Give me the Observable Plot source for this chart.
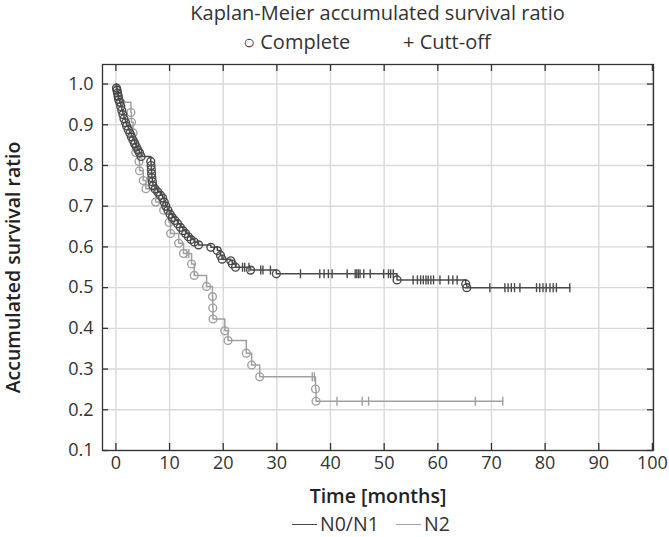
<!DOCTYPE html>
<html>
<head>
<meta charset="utf-8">
<script src="https://cdn.jsdelivr.net/npm/d3@7"></script>
<script src="https://cdn.jsdelivr.net/npm/@observablehq/plot@0.6"></script>
<style>
  body { margin: 0; background: #fff; }
  #wrap { position: relative; width: 669px; height: 537px; font-family: "Open Sans", sans-serif; color: #333; }
  .abs { position: absolute; white-space: nowrap; }
  #chart { position: absolute; left: 0; top: 0; }
</style>
</head>
<body>
<div id="wrap">
  <div id="chart"></div>
  <div class="abs" id="title" style="left:102px; width:551px; top:2px; text-align:center; font-size:20px; line-height:21px;">Kaplan-Meier accumulated survival ratio</div>
  <div class="abs" style="left:243px; top:31px; font-size:20px; line-height:21px;">○ Complete</div>
  <div class="abs" style="left:403px; top:31px; font-size:20px; line-height:21px;">+ Cutt-off</div>
  <div class="abs" id="legend" style="left:0; top:513px; width:669px; font-size:19.5px; line-height:22px;"></div>
</div>
<script>
// ---- data ----
const seriesNames = ["N0/N1", "N2"];
const seriesColors = ["#4a4a4a", "#a0a0a0"];

// N0/N1: event times (months) and survival after each event
const n01EventTimes = [0.1,0.2,0.3,0.4,0.5,0.7,0.9,1.1,1.3,1.5,1.8,2.0,2.3,2.6,2.9,3.2,3.5,3.8,4.1,4.4,4.7,
  6.5,6.55,6.6,6.65,6.7,6.8,6.9,7.3,7.8,8.3,8.7,9.0,9.3,9.7,10.1,10.5,11.0,11.5,12.0,12.5,13.0,13.5,14.0,14.6,15.4,
  17.7,18.9,19.5,19.8,21.4,21.7,22.3,25.1,29.9,52.4,65.2,65.4];
const n01EventSurv = [0.990,0.985,0.978,0.970,0.962,0.955,0.945,0.935,0.925,0.915,0.905,0.897,0.888,0.879,0.870,0.862,0.853,0.846,0.838,0.831,0.822,
  0.810,0.800,0.790,0.780,0.770,0.760,0.750,0.742,0.735,0.727,0.720,0.710,0.700,0.690,0.680,0.672,0.665,0.657,0.648,0.640,0.633,0.625,0.618,0.612,0.605,
  0.599,0.591,0.579,0.570,0.566,0.558,0.550,0.543,0.534,0.519,0.509,0.500];
const n01CensorTimes = [23.6,24.0,24.8,27.0,27.4,28.8,34.4,38.0,38.8,39.6,40.3,43.1,44.6,44.9,45.2,45.5,46.2,47.4,49.9,50.8,51.2,51.7,
  55.4,56.2,56.8,57.3,57.8,58.2,58.7,59.2,60.4,62.0,62.8,63.6,69.7,72.5,73.1,73.7,74.3,75.3,78.4,79.0,79.6,80.2,80.9,81.5,82.1,84.6];

// N2
const n2EventTimes = [0.2,0.5,0.9,2.8,2.9,3.2,3.5,3.7,4.3,4.4,5.1,5.6,7.4,8.9,9.9,10.2,11.7,12.6,14.1,14.6,16.9,18.0,18.05,18.1,20.3,20.9,24.3,25.3,26.8,37.2,37.3];
const n2EventSurv = [0.985,0.970,0.955,0.930,0.906,0.880,0.856,0.832,0.810,0.787,0.763,0.743,0.710,0.690,0.660,0.633,0.609,0.584,0.558,0.530,0.503,0.478,0.450,0.423,0.394,0.370,0.339,0.310,0.281,0.251,0.221];
const n2CensorTimes = [13.2,13.6,36.6,37.0,41.2,45.9,47.1,67.0,72.1];

const xTicks = [0,10,20,30,40,50,60,70,80,90,100];
const yTicks = [0.1,0.2,0.3,0.4,0.5,0.6,0.7,0.8,0.9,1.0];

// ---- build tables ----
function levelAt(times, surv, t) {
  let s = 1;
  for (let i = 0; i < times.length; i++) if (times[i] <= t) s = surv[i];
  return s;
}
function build(name, times, surv, censors) {
  const events = times.map((t, i) => ({series: name, t, s: surv[i]}));
  const cens = censors.map(t => ({series: name, t, s: levelAt(times, surv, t)}));
  const lastT = Math.max(times[times.length - 1], censors[censors.length - 1]);
  const line = [{series: name, t: 0, s: 1}, ...events, {series: name, t: lastT, s: surv[surv.length - 1]}];
  return {events, cens, line};
}
const A = build(seriesNames[0], n01EventTimes, n01EventSurv, n01CensorTimes);
const B = build(seriesNames[1], n2EventTimes, n2EventSurv, n2CensorTimes);

const censorSymbol = {
  draw(ctx, size) { const r = Math.sqrt(size / Math.PI); ctx.moveTo(0, -r); ctx.lineTo(0, r); }
};

const W = 669, H = 537, mL = 102, mR = 16, mT = 64, mB = 87;
const frameH = H - mT - mB;
const frameW = W - mL - mR;
const frameColor = "#333";

const chart = Plot.plot({
  width: W, height: H,
  marginLeft: mL, marginRight: mR, marginTop: mT, marginBottom: mB,
  style: {fontFamily: "'Open Sans', sans-serif", fontSize: "18px", color: "#333", background: "transparent"},
  x: {domain: [-2.5, 100.2]},
  y: {domain: [0.1, 1.048]},
  marks: [
    Plot.gridX(xTicks, {stroke: "#d9d9d9", strokeOpacity: 1, strokeWidth: 1.4}),
    Plot.gridY(yTicks, {stroke: "#d9d9d9", strokeOpacity: 1, strokeWidth: 1.4}),
    Plot.line(B.line, {x: "t", y: "s", curve: "step-after", stroke: seriesColors[1], strokeWidth: 1.5}),
    Plot.dot(B.events, {x: "t", y: "s", r: 3.9, stroke: seriesColors[1], fill: "none", strokeWidth: 1.4}),
    Plot.dot(B.cens, {x: "t", y: "s", r: 4.5, symbol: censorSymbol, stroke: seriesColors[1], fill: "none", strokeWidth: 1.4}),
    Plot.line(A.line, {x: "t", y: "s", curve: "step-after", stroke: seriesColors[0], strokeWidth: 1.5}),
    Plot.dot(A.events, {x: "t", y: "s", r: 3.9, stroke: seriesColors[0], fill: "none", strokeWidth: 1.4}),
    Plot.dot(A.cens, {x: "t", y: "s", r: 4.5, symbol: censorSymbol, stroke: seriesColors[0], fill: "none", strokeWidth: 1.4}),
    Plot.frame({stroke: frameColor, strokeWidth: 1.3}),
    Plot.tickX(xTicks, {x: d => d, insetTop: frameH - 7, stroke: frameColor, strokeWidth: 1.3}),
    Plot.tickX(xTicks, {x: d => d, insetBottom: frameH - 7, stroke: frameColor, strokeWidth: 1.3}),
    Plot.tickY(yTicks, {y: d => d, insetRight: frameW - 6, stroke: frameColor, strokeWidth: 1.3}),
    Plot.tickY(yTicks, {y: d => d, insetLeft: frameW - 6, stroke: frameColor, strokeWidth: 1.3}),
    Plot.axisX(xTicks, {tickSize: 0, tickPadding: 6, label: null, fontSize: 18, fill: "#333"}),
    Plot.axisY(yTicks, {tickSize: 0, tickPadding: 9, label: null, tickFormat: d3.format(".1f"), fontSize: 18, fill: "#333"}),
    Plot.text(["Accumulated survival ratio"], {frameAnchor: "left", textAnchor: "middle", lineAnchor: "middle", rotate: -90, dx: -89, dy: 10, fontWeight: 600, fontSize: 19.5, fill: "#222"}),
    Plot.text(["Time [months]"], {frameAnchor: "bottom", textAnchor: "middle", dy: 52, fontWeight: 600, fontSize: 19.5, fill: "#222"})
  ]
});
document.getElementById("chart").appendChild(chart);

// legend
const leg = document.getElementById("legend");
const legendX = [292, 396];
seriesNames.forEach((name, i) => {
  const line = document.createElement("div");
  line.className = "abs";
  line.style.cssText = `left:${legendX[i]}px; top:11px; width:25px; height:0; border-top:1.6px solid ${seriesColors[i]};`;
  leg.appendChild(line);
  const lab = document.createElement("div");
  lab.className = "abs";
  lab.style.cssText = `left:${legendX[i] + 28}px; top:0;`;
  lab.textContent = name;
  leg.appendChild(lab);
});
</script>
</body>
</html>
